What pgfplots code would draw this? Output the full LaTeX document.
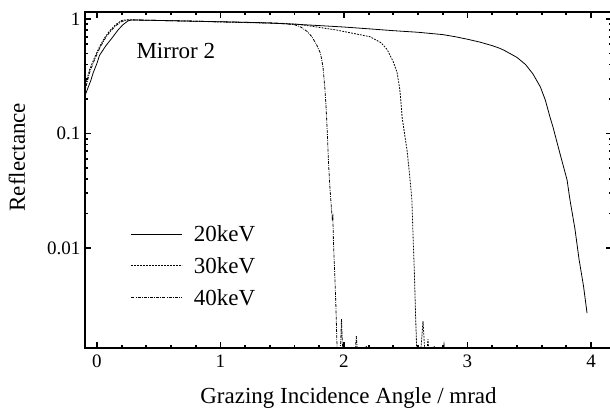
\documentclass[border=0pt]{standalone}
\usepackage{pgfplots}
\pgfplotsset{compat=1.18}
\usepackage{fontspec}
\setmainfont{Liberation Serif}

\begin{document}
\begin{tikzpicture}
\begin{axis}[
  scale only axis,
  width=527bp, height=336bp,
  ymode=log,
  xmin=-0.097, xmax=4.170,
  ymin=0.00134, ymax=1.15,
  xtick={0,1,2,3,4},
  minor x tick num=4,
  ytick={0.01,0.1,1},
  yticklabels={0.01,0.1,1},
  tick pos=both,
  tick align=inside,
  major tick length=6bp,
  minor tick length=3.5bp,
  every tick/.style={line width=1.8bp, black},
  axis line style={line width=2.2bp},
  tick label style={font=\fontsize{19bp}{22bp}\selectfont},
  /pgf/number format/assume math mode=true,
  xticklabel style={yshift=-3bp},
  yticklabel style={xshift=-1bp},
  xlabel={Grazing Incidence Angle / mrad},
  ylabel={Reflectance},
  every axis x label/.style={at={(axis description cs:0.5,-0.165)}, anchor=base, font=\fontsize{23bp}{27bp}\selectfont},
  every axis y label/.style={at={(axis description cs:-0.114,0.568)}, anchor=base, rotate=90, font=\fontsize{23bp}{27bp}\selectfont},
  legend cell align=left,
  legend style={draw=none, fill=none, inner sep=0pt,
    at={(axis description cs:0.087,0.369)}, anchor=north west,
    font=\fontsize{23bp}{27bp}\selectfont, row sep=12.5bp,
    nodes={inner sep=1bp}},
  legend image code/.code={\draw[#1] (0bp,0bp) -- (51bp,0bp); \path (61bp,0bp);},
  clip=true,
]
\addplot[black, line width=0.8bp] table {
x y
-0.1 0.21
-0.05 0.29
-0.03 0.34
0.0 0.41
0.02 0.48
0.07 0.58
0.13 0.70
0.17 0.80
0.21 0.89
0.25 0.96
0.28 0.98
0.4 0.975
0.6 0.965
0.8 0.955
1.0 0.945
1.2 0.935
1.4 0.92
1.6 0.90
1.8 0.875
2.0 0.85
2.2 0.82
2.4 0.79
2.6 0.765
2.8 0.73
2.9 0.70
3.0 0.665
3.1 0.628
3.2 0.585
3.26 0.555
3.3 0.53
3.4 0.462
3.47 0.40
3.53 0.331
3.59 0.255
3.63 0.196
3.668 0.139
3.692 0.114
3.75 0.066
3.806 0.0394
3.83 0.0262
3.87 0.0147
3.903 0.0080
3.94 0.0046
3.968 0.0027
};
\addlegendentry{20keV}
\addplot[black, line width=0.8bp, dash pattern=on 1.8bp off 1.2bp] table {
x y
-0.1 0.25
-0.06 0.36
-0.02 0.46
0.02 0.57
0.06 0.68
0.1 0.78
0.15 0.89
0.2 0.97
0.25 0.985
0.4 0.975
0.6 0.965
0.8 0.955
1.0 0.94
1.2 0.93
1.4 0.92
1.62 0.90
1.75 0.86
1.94 0.80
2.07 0.75
2.21 0.70
2.30 0.62
2.35 0.54
2.40 0.42
2.43 0.34
2.45 0.25
2.46 0.196
2.47 0.14
2.49 0.10
2.51 0.072
2.53 0.045
2.55 0.026
2.56 0.012
2.57 0.006
2.58 0.0025
2.59 0.0012
2.62 0.0012
2.64 0.0023
2.655 0.0012
2.67 0.0012
2.68 0.0016
2.69 0.0012
2.72 0.0012
2.73 0.0014
2.74 0.0012
2.80 0.0012
2.81 0.00145
2.82 0.0012
};
\addlegendentry{30keV}
\addplot[black, line width=0.8bp, dash pattern=on 3bp off 1.2bp on 0.8bp off 1.2bp] table {
x y
-0.1 0.23
-0.06 0.34
-0.02 0.44
0.02 0.55
0.06 0.66
0.1 0.76
0.15 0.87
0.2 0.95
0.25 0.98
0.4 0.975
0.6 0.965
0.8 0.955
1.0 0.945
1.2 0.935
1.4 0.925
1.5 0.915
1.6 0.89
1.65 0.85
1.70 0.78
1.74 0.70
1.78 0.59
1.81 0.50
1.83 0.38
1.845 0.25
1.855 0.17
1.865 0.10
1.875 0.055
1.885 0.035
1.90 0.021
1.905 0.018
1.91 0.019
1.915 0.011
1.925 0.006
1.935 0.0030
1.945 0.0012
1.97 0.0012
1.98 0.0024
1.99 0.0012
2.09 0.0012
2.10 0.0017
2.11 0.0012
2.17 0.0012
2.18 0.0014
2.19 0.0012
};
\addlegendentry{40keV}
\node[anchor=base west, font=\fontsize{23bp}{27bp}\selectfont] at (axis description cs:0.0911,0.863) {Mirror 2};
\end{axis}
\pgfresetboundingbox
\useasboundingbox (-85bp,-64bp) rectangle (525bp,348bp);
\end{tikzpicture}
\end{document}
